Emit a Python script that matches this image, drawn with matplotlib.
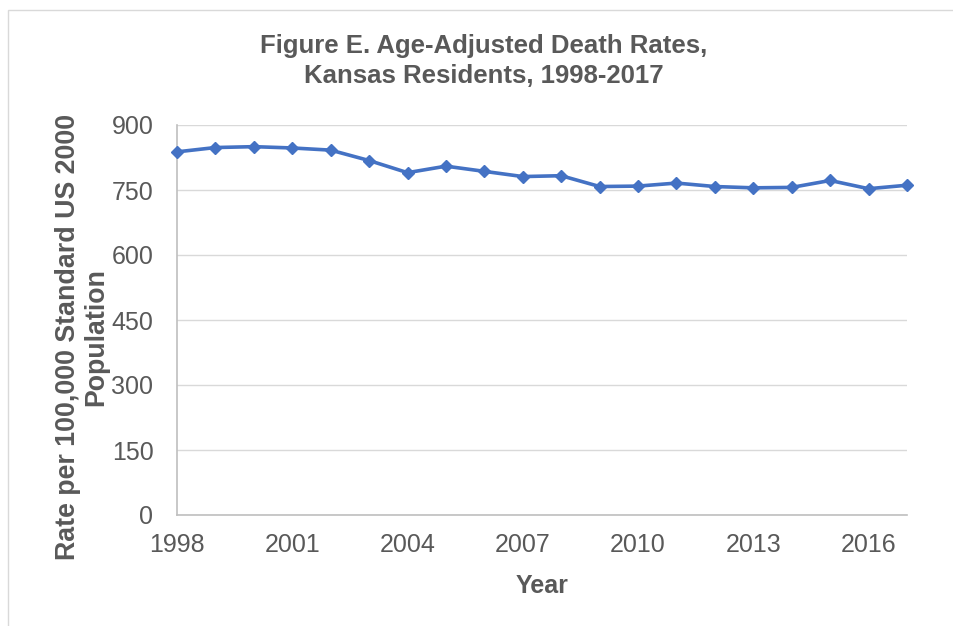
import matplotlib
matplotlib.use("Agg")
from matplotlib import pyplot as plt
from matplotlib.patches import Rectangle

# Age-adjusted death rates per 100,000 (US 2000 standard), Kansas residents
years = list(range(1998, 2018))
rates = [838, 848, 850, 847, 842, 818, 790, 805, 793, 781,
         783, 758, 759, 766, 758, 755, 756, 772, 753, 761]

y_ticks = [0, 150, 300, 450, 600, 750, 900]
x_ticks = [1998, 2001, 2004, 2007, 2010, 2013, 2016]

text_color = "#595959"
line_color = "#4472C4"
grid_color = "#D9D9D9"

plt.rcParams['font.family'] = ['Liberation Sans', 'DejaVu Sans']

W, H = 954, 626
fig = plt.figure(figsize=(W / 100, H / 100), dpi=100)

# light frame around the chart area
fig.patches.append(Rectangle((8 / W, -0.05), 1.1, (H - 10) / H + 0.05,
                             transform=fig.transFigure, fill=False,
                             edgecolor=grid_color, linewidth=1))

ax = fig.add_axes([177 / W, (H - 515) / H, 730 / W, 390 / H])
ax.plot(years, rates, color=line_color, linewidth=2.6, marker='D',
        markersize=6.5, zorder=3, clip_on=False)

ax.set_xlim(1998, 2017)
ax.set_ylim(0, 900)
ax.set_xticks(x_ticks)
ax.set_yticks(y_ticks)
ax.tick_params(length=0, labelsize=18, labelcolor=text_color)
ax.tick_params(axis='y', pad=17)
ax.tick_params(axis='x', pad=13)

ax.grid(axis='y', color=grid_color, linewidth=1)
ax.set_axisbelow(True)
for side in ['top', 'right']:
    ax.spines[side].set_visible(False)
for side in ['left', 'bottom']:
    ax.spines[side].set_color('#BFBFBF')
    ax.spines[side].set_linewidth(1.2)

ax.set_xlabel('Year', fontsize=18, fontweight='bold', color=text_color, labelpad=12)

fig.text(82 / W, 1 - 337 / H, 'Rate per 100,000 Standard US 2000\nPopulation',
         rotation=90, ha='center', va='center', multialignment='center',
         fontsize=19.3, fontweight='bold', color=text_color, linespacing=1.1)

fig.text(484 / W, 1 - 61 / H,
         'Figure E. Age-Adjusted Death Rates,\nKansas Residents, 1998-2017',
         ha='center', va='center', fontsize=18.5, fontweight='bold',
         color=text_color, linespacing=1.35)

fig.savefig('out.png', dpi=100)
